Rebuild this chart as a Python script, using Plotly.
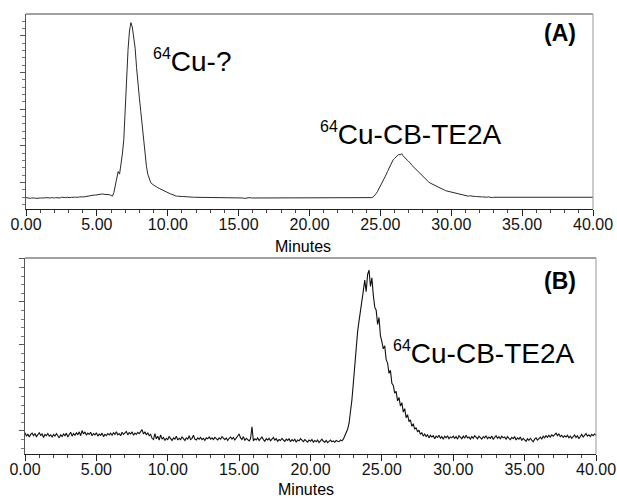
import numpy as np
import plotly.graph_objects as go

# Retention time grid (minutes), one reading every 0.1 min
time_min = np.round(np.arange(0, 40.05, 0.1), 1)

# (A) radio-HPLC trace, detector signal (arbitrary units, baseline ~0)
signal_a = [
    0.01, 0.00, 0.01, -0.01, 0.00, 0.01, 0.00, -0.01, 0.00, 0.01, 0.00, 0.00, -0.01, 0.00, 0.01, 0.00, -0.01, 0.00, 0.01, 0.00,
    0.00, 0.01, 0.00, 0.01, 0.00, 0.02, 0.01, 0.00, 0.01, 0.02, 0.01, 0.01, 0.02, 0.01, 0.02, 0.02, 0.01, 0.02, 0.03, 0.02,
    0.03, 0.03, 0.04, 0.04, 0.05, 0.06, 0.06, 0.07, 0.08, 0.08, 0.09, 0.10, 0.09, 0.10, 0.11, 0.10, 0.10, 0.09, 0.10, 0.09,
    0.07, 0.05, 0.15, 0.35, 0.58, 0.72, 0.65, 0.90, 1.20, 1.60, 2.50, 3.40, 4.05, 4.55, 4.78, 4.66, 4.40, 4.08, 3.55, 3.02,
    2.72, 2.35, 1.95, 1.50, 1.12, 0.85, 0.64, 0.50, 0.42, 0.38, 0.35, 0.32, 0.30, 0.28, 0.26, 0.24, 0.22, 0.19, 0.17, 0.16,
    0.14, 0.13, 0.11, 0.10, 0.08, 0.06, 0.05, 0.05, 0.04, 0.05, 0.04, 0.04, 0.03, 0.04, 0.03, 0.03, 0.02, 0.03, 0.02, 0.02,
    0.02, 0.01, 0.02, 0.01, 0.02, 0.01, 0.01, 0.02, 0.00, 0.01, 0.01, 0.00, 0.01, 0.02, 0.01, 0.01, 0.00, 0.01, 0.01, 0.00,
    0.01, 0.00, 0.01, 0.01, 0.02, 0.01, 0.00, 0.01, 0.00, 0.01, 0.01, 0.00, 0.01, 0.00, -0.01, 0.00, 0.01, 0.00, 0.01, 0.00,
    0.00, 0.01, 0.00, -0.01, 0.00, 0.00, 0.01, 0.00, 0.00, -0.01, 0.00, 0.01, 0.00, 0.00, 0.01, 0.00, -0.01, 0.00, 0.00, 0.01,
    0.00, 0.00, 0.01, 0.00, -0.01, 0.00, 0.01, 0.00, 0.00, 0.01, 0.00, 0.00, -0.01, 0.00, 0.01, 0.00, 0.00, 0.01, 0.00, 0.00,
    0.01, 0.00, 0.00, 0.01, 0.00, -0.01, 0.00, 0.01, 0.00, 0.00, 0.01, 0.00, 0.00, -0.01, 0.00, 0.01, 0.00, 0.00, 0.01, 0.00,
    0.00, 0.01, 0.00, 0.00, 0.01, 0.00, -0.01, 0.00, 0.00, 0.01, 0.00, 0.01, 0.00, 0.00, 0.01, 0.00, 0.00, 0.01, 0.00, 0.01,
    0.00, 0.01, 0.00, 0.01, 0.01, 0.03, 0.07, 0.12, 0.18, 0.25, 0.32, 0.39, 0.47, 0.55, 0.63, 0.72, 0.81, 0.90, 0.98, 1.04,
    1.08, 1.12, 1.15, 1.19, 1.17, 1.21, 1.15, 1.10, 1.08, 1.03, 0.99, 0.96, 0.90, 0.86, 0.82, 0.78, 0.73, 0.69, 0.65, 0.61,
    0.58, 0.54, 0.50, 0.47, 0.44, 0.41, 0.39, 0.36, 0.34, 0.32, 0.30, 0.28, 0.26, 0.24, 0.23, 0.21, 0.20, 0.19, 0.18, 0.17,
    0.15, 0.14, 0.13, 0.12, 0.11, 0.10, 0.09, 0.09, 0.08, 0.07, 0.07, 0.06, 0.05, 0.06, 0.05, 0.04, 0.05, 0.04, 0.04, 0.03,
    0.04, 0.03, 0.03, 0.02, 0.03, 0.02, 0.03, 0.02, 0.02, 0.01, 0.02, 0.02, 0.01, 0.02, 0.01, 0.02, 0.01, 0.01, 0.02, 0.01,
    0.01, 0.02, 0.01, 0.01, 0.00, 0.01, 0.02, 0.01, 0.01, 0.00, 0.01, 0.01, 0.02, 0.01, 0.00, 0.01, 0.01, 0.00, 0.01, 0.02,
    0.01, 0.01, 0.00, 0.01, 0.02, 0.01, 0.01, 0.00, 0.01, 0.01, 0.02, 0.01, 0.00, 0.01, 0.01, 0.02, 0.01, 0.01, 0.00, 0.01,
    0.01, 0.02, 0.01, 0.01, 0.02, 0.01, 0.02, 0.02, 0.01, 0.02, 0.01, 0.02, 0.02, 0.01, 0.02, 0.02, 0.01, 0.02, 0.02, 0.01,
    0.02,
]

# (B) radio-HPLC trace, detector signal (arbitrary units, baseline ~0)
signal_b = [
    0.10, 0.02, 0.07, 0.00, 0.06, 0.09, 0.03, 0.08, 0.01, 0.05, 0.10, 0.04, 0.07, -0.01, 0.06, 0.03, 0.08, 0.02, 0.05, 0.00,
    0.06, 0.02, 0.08, 0.03, -0.02, 0.05, 0.01, 0.07, 0.03, 0.09, 0.00, 0.06, 0.11, 0.02, 0.08, 0.04, 0.10, 0.05, 0.12, 0.03,
    0.15, 0.07, 0.12, 0.04, 0.09, 0.06, 0.11, 0.03, 0.08, 0.05, 0.10, 0.02, 0.07, 0.04, 0.09, 0.01, 0.06, 0.03, 0.08, 0.05,
    0.09, 0.04, 0.10, 0.06, 0.12, 0.05, 0.08, 0.03, 0.11, 0.06, 0.09, 0.13, 0.05, 0.10, 0.07, 0.12, 0.04, 0.09, 0.06, 0.11,
    0.08, 0.14, 0.17, 0.07, 0.12, 0.05, 0.10, 0.03, 0.06, -0.03, -0.06, 0.08, -0.04, 0.02, -0.07, 0.05, -0.05, -0.01, -0.08, -0.03,
    -0.06, 0.01, -0.04, -0.08, -0.02, -0.05, 0.02, -0.07, -0.03, -0.06, 0.00, -0.04, -0.08, -0.02, -0.05, 0.03, -0.06, -0.03, 0.04, -0.05,
    -0.07, -0.02, -0.05, -0.01, -0.06, -0.03, -0.08, -0.02, -0.04, 0.00, -0.05, -0.02, -0.06, -0.01, -0.04, -0.07, -0.02, -0.05, 0.01, -0.04,
    -0.06, -0.02, -0.08, -0.03, 0.00, -0.05, -0.01, -0.07, -0.03, 0.02, 0.07, -0.02, -0.06, 0.01, -0.08, -0.03, -0.05, -0.09, -0.04, 0.24,
    -0.09, -0.04, -0.07, -0.02, -0.08, -0.05, 0.00, -0.06, -0.10, -0.04, -0.07, -0.03, -0.09, -0.05, -0.01, -0.07, -0.04, -0.10, -0.06, -0.08,
    -0.03, -0.07, -0.10, -0.05, -0.08, -0.04, -0.11, -0.06, -0.09, -0.05, -0.12, -0.07, -0.09, -0.04, -0.08, -0.11, -0.06, -0.09, -0.12, -0.07,
    -0.10, -0.06, -0.12, -0.08, -0.11, -0.07, -0.13, -0.09, -0.05, -0.10, -0.12, -0.08, -0.13, -0.10, -0.07, -0.11, -0.09, -0.12, -0.08, -0.10,
    -0.11, -0.07, -0.09, -0.05, 0.03, 0.08, 0.18, 0.32, 0.55, 0.86, 1.25, 1.70, 2.02, 2.45, 2.70, 2.98, 3.25, 3.40, 3.65, 3.38,
    3.78, 3.88, 3.50, 3.70, 3.30, 3.02, 2.95, 2.62, 2.78, 2.35, 2.22, 2.05, 2.12, 1.80, 1.72, 1.48, 1.55, 1.25, 1.20, 1.02,
    1.06, 0.84, 0.92, 0.72, 0.80, 0.58, 0.66, 0.45, 0.52, 0.36, 0.40, 0.25, 0.31, 0.18, 0.22, 0.12, 0.16, 0.06, 0.10, 0.02,
    0.07, 0.01, 0.05, -0.02, 0.04, 0.00, 0.03, -0.04, 0.02, -0.01, 0.04, -0.03, 0.01, -0.05, 0.02, -0.02, 0.03, -0.04, 0.00, -0.02,
    0.02, -0.03, 0.01, -0.05, 0.03, -0.01, -0.04, 0.02, -0.03, 0.04, -0.02, 0.00, -0.05, 0.01, -0.03, 0.03, -0.01, -0.04, 0.02, -0.02,
    -0.05, 0.01, -0.02, 0.03, -0.04, 0.00, -0.03, 0.02, -0.05, -0.01, 0.03, -0.03, 0.01, -0.04, 0.02, -0.02, 0.00, -0.05, 0.01, -0.03,
    -0.06, -0.01, -0.04, 0.01, -0.07, -0.02, -0.05, 0.00, -0.08, -0.03, -0.06, -0.10, -0.04, -0.08, -0.03, -0.06, -0.11, -0.05, -0.02, -0.07,
    -0.03, 0.00, -0.05, 0.02, -0.02, 0.03, -0.01, 0.04, 0.00, 0.05, 0.02, 0.06, 0.09, 0.03, 0.07, 0.01, 0.04, -0.01, 0.03, 0.00,
    0.04, -0.02, 0.02, -0.03, 0.01, 0.05, -0.01, 0.03, -0.04, 0.02, 0.06, 0.00, 0.04, 0.08, 0.02, 0.05, 0.01, 0.06, 0.03, 0.07,
    0.04,
]

x_ticks = [0, 5, 10, 15, 20, 25, 30, 35, 40]
x_label = "Minutes"
panel_labels = ["(A)", "(B)"]
peak_label_a1 = "<sup><span style='font-size:16px'>64</span></sup>Cu-?"
peak_label_cb = "<sup><span style='font-size:16px'>64</span></sup>Cu-CB-TE2A"

W, H = 617, 498
FONT = "Liberation Sans, Arial, sans-serif"


def px_x(p):
    return p / W


def px_y(p):
    return 1 - p / H


fig = go.Figure()
fig.add_trace(go.Scatter(x=time_min, y=signal_a, mode="lines",
                         line=dict(color="#2a2a2a", width=1), xaxis="x", yaxis="y"))
fig.add_trace(go.Scatter(x=time_min, y=signal_b, mode="lines",
                         line=dict(color="#111111", width=1.1), xaxis="x2", yaxis="y2"))

xcommon = dict(
    range=[0, 40], tickmode="array", tickvals=x_ticks,
    ticktext=[f"{v:.2f}" for v in x_ticks],
    showline=True, linecolor="#222", linewidth=1,
    ticks="outside", ticklen=6, tickcolor="#222", tickwidth=1,
    ticklabelstandoff=-5,
    minor=dict(dtick=1, tick0=0, ticks="outside", ticklen=3, tickcolor="#444"),
    showgrid=False, zeroline=False, automargin=False,
    tickfont=dict(family=FONT, size=16, color="#111"),
)
ycommon = dict(
    showticklabels=False, showline=True, linecolor="#555", linewidth=1,
    ticks="outside", ticklen=5, tickcolor="#555", dtick=1,
    showgrid=False, zeroline=False, automargin=False,
)

fig.update_layout(
    width=W, height=H,
    margin=dict(l=0, r=0, t=0, b=0),
    paper_bgcolor="white", plot_bgcolor="white",
    showlegend=False,
    xaxis=dict(domain=[px_x(26), px_x(593)], anchor="y", **xcommon),
    yaxis=dict(domain=[px_y(209), px_y(14)], anchor="x", range=[-0.30, 5.014],
               tick0=0.42, minor=dict(dtick=0.2, tick0=0.42, ticks="outside", ticklen=3, tickcolor="#777"),
               **ycommon),
    xaxis2=dict(domain=[px_x(25), px_x(596)], anchor="y2", **xcommon),
    yaxis2=dict(domain=[px_y(454), px_y(258)], anchor="x2", range=[-0.395, 4.163],
                tick0=0.14, minor=dict(dtick=0.2, tick0=0.14, ticks="outside", ticklen=3, tickcolor="#777"),
                **ycommon),
)

# frame lines on top and right of each panel
for xr, yr, c_top, c_right in (("x", "y", "#444", "#999"), ("x2", "y2", "#444", "#999")):
    fig.add_shape(type="line", xref=f"{xr} domain", yref=f"{yr} domain",
                  x0=0, x1=1, y0=1, y1=1, line=dict(color=c_top, width=1))
    fig.add_shape(type="line", xref=f"{xr} domain", yref=f"{yr} domain",
                  x0=1, x1=1, y0=0, y1=1, line=dict(color=c_right, width=1))


def note(text, x, y, size, xanchor="left", yanchor="middle", bold=False):
    fig.add_annotation(text=text, xref="paper", yref="paper", x=px_x(x), y=px_y(y),
                       xanchor=xanchor, yanchor=yanchor, showarrow=False,
                       font=dict(family=FONT, size=size, color="#000",
                                 weight="bold" if bold else "normal"))


note(x_label, 303, 247, 16, xanchor="center")
note(x_label, 306, 489, 16, xanchor="center")
note(panel_labels[0], 578, 33, 23, xanchor="right", bold=True)
note(panel_labels[1], 578, 281, 23, xanchor="right", bold=True)
note(peak_label_a1, 151, 79, 28, yanchor="bottom")
note(peak_label_cb, 318, 152, 28, yanchor="bottom")
note(peak_label_cb, 391, 371, 28, yanchor="bottom")

fig.write_html("out.html")
